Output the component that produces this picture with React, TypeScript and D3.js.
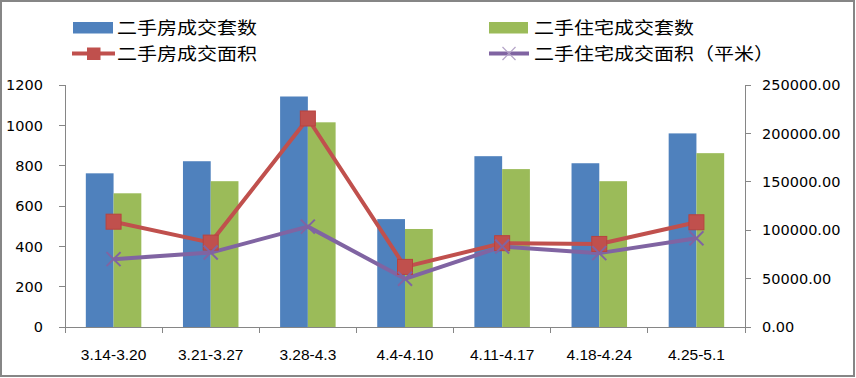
import React from "react";
import * as d3 from "d3";

const categories = ["3.14-3.20", "3.21-3.27", "3.28-4.3", "4.4-4.10", "4.11-4.17", "4.18-4.24", "4.25-5.1"];
const houseCount = [762, 822, 1143, 535, 847, 812, 960];
const residCount = [663, 723, 1015, 486, 783, 723, 862];
const houseArea = [108800, 87200, 215400, 62100, 86600, 85800, 108200];
const residArea = [70100, 76900, 103700, 49800, 83100, 76300, 91700];
const leftTicks = [0, 200, 400, 600, 800, 1000, 1200];
const rightTicks = [0, 50000, 100000, 150000, 200000, 250000];
const legendLabels = ["二手房成交套数", "二手住宅成交套数", "二手房成交面积", "二手住宅成交面积（平米）"];

const W = 856;
const H = 378;
const BLUE = "#4F81BD";
const GREEN = "#9BBB59";
const RED = "#C0504D";
const PURPLE = "#8064A2";
const GREY = "#868686";
const NUM_FONT = "'DejaVu Sans', sans-serif";
const CAT_FONT = "'Liberation Sans', Arial, sans-serif";
const CJK_FONT = "'Noto Sans CJK SC', sans-serif";

export default function App() {
  const left = 65, right = 745, top = 85, bottom = 327;
  const x = d3.scaleBand<string>().domain(categories).range([left, right]).padding(0);
  const step = x.step();
  const barW = step / 3.5;
  const gap = barW * 1.5;
  const sub = d3.scaleBand<string>().domain(["a", "b"]).range([gap / 2, step - gap / 2]).padding(0);
  const yL = d3.scaleLinear().domain([0, 1200]).range([bottom, top]);
  const yR = d3.scaleLinear().domain([0, 250000]).range([bottom, top]);
  const cx = (c: string) => (x(c) as number) + step / 2;

  const line = d3.line<[number, number]>().x(d => d[0]).y(d => d[1]);
  const redPts: [number, number][] = categories.map((c, i) => [cx(c), yR(houseArea[i])]);
  const purPts: [number, number][] = categories.map((c, i) => [cx(c), yR(residArea[i])]);

  const boundaries = d3.range(categories.length + 1).map(i => left + i * step);
  const xMark = (px: number, py: number, s: number, color: string, sw: number, key: string) => (
    <g key={key} stroke={color} strokeWidth={sw}>
      <line x1={px - s} y1={py - s} x2={px + s} y2={py + s} />
      <line x1={px - s} y1={py + s} x2={px + s} y2={py - s} />
    </g>
  );

  const row1 = 27.5, row2 = 53.5;
  const lf = 17.5;
  const charW = 20;

  return (
    <svg width={W} height={H} style={{ position: "absolute", left: 0, top: 0 }}>
      <rect x={0} y={0} width={W} height={H} fill="#fff" />
      <rect x={1} y={1} width={W - 3} height={H - 3} fill="none" stroke={GREY} strokeWidth={2} />

      {/* bars */}
      {categories.map((c, i) => (
        <g key={c}>
          <rect x={(x(c) as number) + (sub("a") as number)} y={yL(houseCount[i])} width={sub.bandwidth()} height={bottom - yL(houseCount[i])} fill={BLUE} />
          <rect x={(x(c) as number) + (sub("b") as number)} y={yL(residCount[i])} width={sub.bandwidth()} height={bottom - yL(residCount[i])} fill={GREEN} />
        </g>
      ))}

      {/* axes */}
      <g stroke={GREY} strokeWidth={1} shapeRendering="crispEdges">
        <line x1={left} y1={top} x2={left} y2={bottom} />
        <line x1={right} y1={top} x2={right} y2={bottom} />
        <line x1={left} y1={bottom} x2={right} y2={bottom} />
        {leftTicks.map(t => <line key={"lt" + t} x1={left - 6} x2={left} y1={yL(t)} y2={yL(t)} />)}
        {rightTicks.map(t => <line key={"rt" + t} x1={right} x2={right + 6} y1={yR(t)} y2={yR(t)} />)}
        {boundaries.map(b => <line key={"bt" + b} x1={b} x2={b} y1={bottom} y2={bottom + 6} />)}
      </g>
      {leftTicks.map(t => (
        <text key={"ll" + t} x={43} y={yL(t)} dy="0.36em" textAnchor="end" fontFamily={NUM_FONT} fontSize={14.5} fill="#000">{t}</text>
      ))}
      {rightTicks.map(t => (
        <text key={"rl" + t} x={762} y={yR(t)} dy="0.36em" textAnchor="start" fontFamily={NUM_FONT} fontSize={14.5} fill="#000">{t.toFixed(2)}</text>
      ))}
      {categories.map(c => (
        <text key={"xl" + c} x={cx(c)} y={359.5} textAnchor="middle" fontFamily={CAT_FONT} fontSize={15.5} fill="#000">{c}</text>
      ))}

      {/* lines */}
      <path d={line(redPts) || ""} fill="none" stroke={RED} strokeWidth={4} strokeLinejoin="round" />
      <path d={line(purPts) || ""} fill="none" stroke={PURPLE} strokeWidth={4} strokeLinejoin="round" />
      {redPts.map((p, i) => (
        <rect key={"rm" + i} x={p[0] - 7.5} y={p[1] - 7.5} width={15} height={15} fill={RED} stroke="#B8433F" strokeWidth={1} />
      ))}
      {purPts.map((p, i) => xMark(p[0], p[1], 7, PURPLE, 2, "pm" + i))}

      {/* legend */}
      <rect x={73} y={22} width={40} height={11.5} fill={BLUE} />
      <text x={117} y={row1} dy="0.36em" fontFamily={CJK_FONT} fontSize={lf} textLength={legendLabels[0].length * charW} lengthAdjust="spacingAndGlyphs">{legendLabels[0]}</text>
      <rect x={489} y={22} width={39} height={11.5} fill={GREEN} />
      <text x={534} y={row1} dy="0.36em" fontFamily={CJK_FONT} fontSize={lf} textLength={legendLabels[1].length * charW} lengthAdjust="spacingAndGlyphs">{legendLabels[1]}</text>
      <line x1={72} x2={115} y1={row2} y2={row2} stroke={RED} strokeWidth={4} />
      <rect x={87} y={47.5} width={13.5} height={12.5} fill={RED} />
      <text x={117} y={row2} dy="0.36em" fontFamily={CJK_FONT} fontSize={lf} textLength={legendLabels[2].length * charW} lengthAdjust="spacingAndGlyphs">{legendLabels[2]}</text>
      <line x1={489} x2={529} y1={row2} y2={row2} stroke={PURPLE} strokeWidth={4} />
      {xMark(509, row2, 6.5, "#B3A2C7", 1.2, "lgx")}
      <text x={534} y={row2} dy="0.36em" fontFamily={CJK_FONT} fontSize={lf} textLength={legendLabels[3].length * charW} lengthAdjust="spacingAndGlyphs">{legendLabels[3]}</text>
    </svg>
  );
}
